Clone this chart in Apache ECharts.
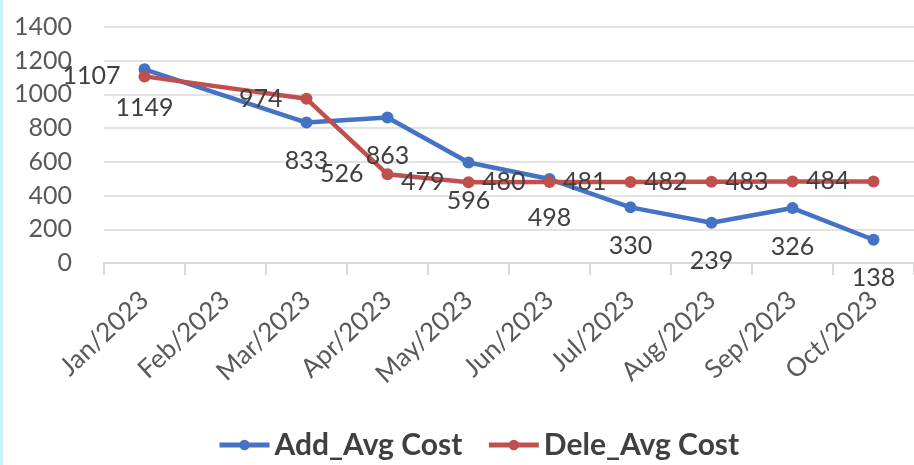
<!DOCTYPE html>
<html>
<head>
<meta charset="utf-8">
<title>Avg Cost</title>
<script src="https://cdn.jsdelivr.net/npm/echarts@6/dist/echarts.min.js"></script>
<style>
html, body { margin: 0; padding: 0; background: #fff; }
#container { width: 914px; height: 465px; }
</style>
</head>
<body>
<div id="container"></div>
<script type="text/javascript">
// data (Feb has no point in either series)
var months = ['Jan/2023', 'Feb/2023', 'Mar/2023', 'Apr/2023', 'May/2023',
	'Jun/2023', 'Jul/2023', 'Aug/2023', 'Sep/2023', 'Oct/2023'];
var addAvgCost = [1149, null, 833, 863, 596, 498, 330, 239, 326, 138];
var deleAvgCost = [1107, null, 974, 526, 479, 480, 481, 482, 483, 484];
var yTicks = [0, 200, 400, 600, 800, 1000, 1200, 1400];

var FONT = 'Lato';
var TXT = '#404040';

var myChart = echarts.init(document.getElementById('container'));

var option = {
	backgroundColor: '#fff',
	animation: false,
	textStyle: { fontFamily: FONT },
	graphic: [{
		type: 'rect',
		left: 0, top: 0,
		shape: { width: 3, height: 465 },
		style: { fill: '#c8f4f8' }
	}],
	grid: { left: 104, right: -10, top: 27, bottom: 202 },
	legend: {
		bottom: 0,
		left: 212,
		itemWidth: 50,
		itemHeight: 13,
		itemGap: 24,
		lineStyle: { width: 5 },
		textStyle: { fontFamily: FONT, fontSize: 30, fontWeight: 'bold', color: TXT },
		data: ['Add_Avg Cost', 'Dele_Avg Cost']
	},
	xAxis: {
		type: 'category',
		data: months,
		boundaryGap: true,
		axisLine: { lineStyle: { color: '#d9d9d9', width: 2 } },
		axisTick: { show: true, length: 12, alignWithLabel: false, lineStyle: { color: '#d9d9d9', width: 2 } },
		axisLabel: {
			interval: 0,
			rotate: 43,
			margin: 33,
			fontFamily: FONT,
			fontSize: 26,
			color: '#595959'
		}
	},
	yAxis: {
		type: 'value',
		min: yTicks[0],
		max: yTicks[yTicks.length - 1],
		interval: 200,
		axisLine: { show: false },
		axisTick: { show: false },
		splitLine: { lineStyle: { color: '#e3e3e3', width: 2 } },
		axisLabel: {
			margin: 32,
			fontFamily: FONT,
			fontSize: 25,
			color: '#595959',
			formatter: function (v) { return String(v); }
		}
	},
	series: [{
		name: 'Add_Avg Cost',
		type: 'line',
		data: addAvgCost,
		connectNulls: true,
		symbol: 'circle',
		symbolSize: 12,
		color: '#4472c4',
		lineStyle: { width: 4.5, color: '#4472c4' },
		label: {
			show: true,
			position: 'bottom',
			distance: 20,
			fontFamily: FONT,
			fontSize: 25,
			color: TXT
		}
	}, {
		name: 'Dele_Avg Cost',
		type: 'line',
		data: deleAvgCost,
		connectNulls: true,
		symbol: 'circle',
		symbolSize: 12,
		color: '#c0504d',
		lineStyle: { width: 4.5, color: '#c0504d' },
		label: {
			show: true,
			position: 'left',
			distance: 18,
			fontFamily: FONT,
			fontSize: 25,
			color: TXT
		}
	}]
};

myChart.setOption(option, true);
</script>
</body>
</html>
